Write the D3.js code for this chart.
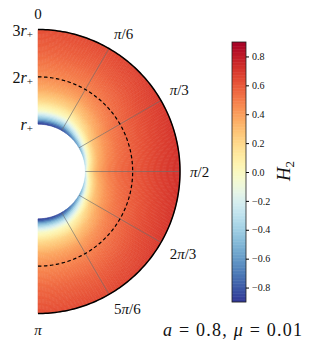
<!DOCTYPE html>
<html>
<head>
<meta charset="utf-8">
<script src="https://cdn.jsdelivr.net/npm/d3@7"></script>
<style>
  body { margin: 0; background: #fff; }
  svg text { font-family: "Liberation Serif", "Times New Roman", serif !important; fill: #111; }
</style>
</head>
<body>
<script>
// radial samples in units of r+, polar angle samples in degrees
var radii = [1, 1.05, 1.1, 1.2, 1.3, 1.5, 1.75, 2, 2.5, 3];
var thetas = [0, 30, 60, 90, 120, 150, 180];
// H2 values, one row per radius, one column per angle
var h2Values = [
  [-0.90, -0.85, -0.60, -0.25, -0.60, -0.85, -0.90],
  [-0.78, -0.72, -0.35, 0.00, -0.35, -0.72, -0.78],
  [-0.55, -0.50, -0.12, 0.15, -0.12, -0.50, -0.55],
  [-0.25, -0.20, 0.12, 0.30, 0.12, -0.20, -0.25],
  [-0.02, 0.03, 0.27, 0.39, 0.27, 0.03, -0.02],
  [0.20, 0.24, 0.40, 0.49, 0.40, 0.24, 0.20],
  [0.36, 0.39, 0.50, 0.56, 0.50, 0.39, 0.36],
  [0.45, 0.48, 0.56, 0.60, 0.56, 0.48, 0.45],
  [0.56, 0.58, 0.64, 0.67, 0.64, 0.58, 0.56],
  [0.63, 0.65, 0.70, 0.73, 0.70, 0.65, 0.63]
];
var radialTicks = [1, 2, 3];
var radialLabels = ["", "2", "3"];
var angleTicks = [0, 30, 60, 90, 120, 150, 180];
var angleLabels = ["0", "π/6", "π/3", "π/2", "2π/3", "5π/6", "π"];
var cbTicks = [-0.8, -0.6, -0.4, -0.2, 0.0, 0.2, 0.4, 0.6, 0.8];
var horizon = 2; // dashed circle

var width = 309, height = 348;
var cx = 38, cy = 171.5;

var svg = d3.select("body").append("svg")
    .attr("width", width)
    .attr("height", height);

var rScale = d3.scaleLinear().domain([0, 3]).range([0, 142]);
var aScale = d3.scaleLinear().domain([0, 180]).range([0, Math.PI]);
var color = d3.scaleSequential(d3.interpolateRdYlBu).domain([0.9, -0.9]);

function bracket(arr, v) {
    var i = d3.bisectRight(arr, v) - 1;
    return Math.max(0, Math.min(arr.length - 2, i));
}

function h2At(r, th) {
    var i = bracket(radii, r), j = bracket(thetas, th);
    var u = (r - radii[i]) / (radii[i + 1] - radii[i]);
    var v = (th - thetas[j]) / (thetas[j + 1] - thetas[j]);
    var a = h2Values[i][j], b = h2Values[i][j + 1];
    var c = h2Values[i + 1][j], d = h2Values[i + 1][j + 1];
    return (1 - u) * ((1 - v) * a + v * b) + u * ((1 - v) * c + v * d);
}

var g = svg.append("g").attr("transform", "translate(" + cx + "," + cy + ")");

// field cells
var nr = 80, nt = 120;
var cells = [];
for (var i = 0; i < nr; i++) {
    for (var j = 0; j < nt; j++) {
        var r0 = 1 + 2 * i / nr, r1 = 1 + 2 * (i + 1) / nr;
        var t0 = 180 * j / nt, t1 = 180 * (j + 1) / nt;
        cells.push({r0: r0, r1: r1, t0: t0, t1: t1,
                    val: h2At((r0 + r1) / 2, (t0 + t1) / 2)});
    }
}

var arc = d3.arc()
    .innerRadius(function(d) { return rScale(d.r0); })
    .outerRadius(function(d) { return rScale(d.r1); })
    .startAngle(function(d) { return aScale(d.t0); })
    .endAngle(function(d) { return aScale(d.t1); });

g.append("g").selectAll("path")
    .data(cells)
    .enter().append("path")
        .attr("d", arc)
        .attr("fill", function(d) { return color(d.val); })
        .attr("stroke", function(d) { return color(d.val); })
        .attr("stroke-width", 0.6);

// angular grid spokes
g.append("g").selectAll("line")
    .data(angleTicks.filter(function(d) { return d > 0 && d < 180; }))
    .enter().append("line")
        .attr("x1", function(d) { return rScale(1) * Math.sin(aScale(d)); })
        .attr("y1", function(d) { return -rScale(1) * Math.cos(aScale(d)); })
        .attr("x2", function(d) { return rScale(3) * Math.sin(aScale(d)); })
        .attr("y2", function(d) { return -rScale(3) * Math.cos(aScale(d)); })
        .attr("stroke", "#6e6e6e")
        .attr("stroke-opacity", 0.8)
        .attr("stroke-width", 0.8);

// dashed circle
g.append("path")
    .datum(d3.range(0, 181))
    .attr("d", d3.lineRadial()
        .angle(function(d) { return aScale(d); })
        .radius(rScale(horizon)))
    .attr("fill", "none")
    .attr("stroke", "#000")
    .attr("stroke-width", 1.2)
    .attr("stroke-dasharray", "3.5,2.5");

// outer boundary
g.append("path")
    .datum(d3.range(0, 181))
    .attr("d", d3.lineRadial()
        .angle(function(d) { return aScale(d); })
        .radius(rScale(3)))
    .attr("fill", "none")
    .attr("stroke", "#000")
    .attr("stroke-width", 1.5);

// angle labels
var labR = 152;
g.append("g").selectAll("text")
    .data(angleTicks)
    .enter().append("text")
        .attr("x", function(d) { return labR * Math.sin(aScale(d)); })
        .attr("y", function(d) {
            var c = Math.cos(aScale(d));
            var s = Math.abs(c) < 0.01 ? 0 : (c > 0 ? 1 : -1);
            return -labR * c - 6 * s;
        })
        .attr("text-anchor", function(d) { return (d === 0 || d === 180) ? "middle" : "start"; })
        .attr("dominant-baseline", "central")
        .style("font-size", "15px")
        .each(function(d, i) {
            var t = d3.select(this);
            var lab = angleLabels[i];
            var k = lab.indexOf("π");
            if (k < 0) { t.text(lab); return; }
            if (k > 0) t.append("tspan").text(lab.slice(0, k));
            t.append("tspan").style("font-style", "italic").text("π");
            if (k + 1 < lab.length) t.append("tspan").text(lab.slice(k + 1));
        });

// radial labels
g.append("g").selectAll("text")
    .data(radialTicks)
    .enter().append("text")
        .attr("x", -5)
        .attr("y", function(d) { return -rScale(d); })
        .attr("text-anchor", "end")
        .attr("dominant-baseline", "central")
        .style("font-size", "16px")
        .each(function(d, i) {
            var t = d3.select(this);
            if (radialLabels[i]) t.append("tspan").text(radialLabels[i]);
            t.append("tspan").style("font-style", "italic").text("r");
            t.append("tspan").attr("dy", 4).style("font-size", "11px").text("+");
        });

// colorbar
var cbX = 232, cbW = 14;
var cbY = d3.scaleLinear().domain([-0.9, 0.9]).range([302, 42]);
var cb = svg.append("g");
cb.selectAll("rect")
    .data(d3.range(-0.9, 0.9, 0.01))
    .enter().append("rect")
        .attr("x", cbX)
        .attr("width", cbW)
        .attr("y", function(d) { return cbY(d + 0.01); })
        .attr("height", function(d) { return cbY(d) - cbY(d + 0.01) + 0.5; })
        .attr("fill", function(d) { return color(d + 0.005); });
cb.append("rect")
    .attr("x", cbX).attr("y", cbY(0.9))
    .attr("width", cbW).attr("height", cbY(-0.9) - cbY(0.9))
    .attr("fill", "none").attr("stroke", "#222").attr("stroke-width", 0.8);
cb.append("line")
    .attr("x1", cbX).attr("x2", cbX + cbW)
    .attr("y1", cbY(-0.9) + 0.5).attr("y2", cbY(-0.9) + 0.5)
    .attr("stroke", "#999").attr("stroke-width", 1);

var cbAxis = cb.append("g")
    .attr("transform", "translate(" + (cbX + cbW) + ",0)")
    .call(d3.axisRight(cbY).tickValues(cbTicks).tickSize(3).tickPadding(3)
        .tickFormat(d3.format(".1f")));
cbAxis.select(".domain").remove();
cbAxis.selectAll("text")
    .style("font-size", "10px")
    .attr("fill", "#222");

var hl = svg.append("text")
    .attr("transform", "translate(290,171) rotate(-90)")
    .attr("text-anchor", "middle")
    .style("font-size", "19px");
hl.append("tspan").style("font-style", "italic").text("H");
hl.append("tspan").attr("dy", 4).style("font-size", "13px").text("2");

// annotation
var ann = svg.append("text")
    .attr("x", 163).attr("y", 336)
    .attr("textLength", 139)
    .attr("lengthAdjust", "spacing")
    .style("font-size", "18px");
ann.append("tspan").style("font-style", "italic").text("a");
ann.append("tspan").text(" = 0.8, ");
ann.append("tspan").style("font-style", "italic").text("μ");
ann.append("tspan").text(" = 0.01");
</script>
</body>
</html>
